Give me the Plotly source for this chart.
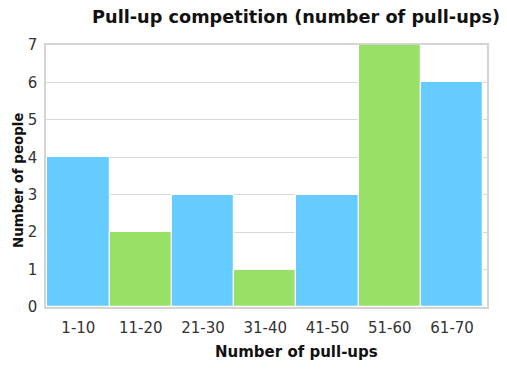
import plotly.graph_objects as go

categories = ["1-10", "11-20", "21-30", "31-40", "41-50", "51-60", "61-70"]
people = [4, 2, 3, 1, 3, 7, 6]
bar_colors = ["#66CCFF", "#99E066", "#66CCFF", "#99E066", "#66CCFF", "#99E066", "#66CCFF"]
y_ticks = [0, 1, 2, 3, 4, 5, 6, 7]

FONT = "DejaVu Sans, Verdana, sans-serif"

fig = go.Figure(go.Bar(
    x=categories, y=people,
    marker=dict(color=bar_colors, line=dict(color="white", width=1.2)),
    width=1.0,
))

fig.update_layout(
    width=507, height=371,
    margin=dict(l=46, r=20, t=45, b=64),
    paper_bgcolor="white", plot_bgcolor="white",
    bargap=0,
    showlegend=False,
    font=dict(family=FONT, size=15, color="#333"),
    title=dict(text="<b>Pull-up competition (number of pull-ups)</b>",
               font=dict(family=FONT, size=17.7, color="#111"),
               x=0.567, xref="paper", xanchor="center",
               y=1 - 17/371, yref="container", yanchor="middle"),
)
fig.update_xaxes(
    range=[-0.52, 6.56], showgrid=False, showline=True, mirror=True,
    linecolor="#d4d4d4", linewidth=1.5, ticks="outside", ticklen=6, tickcolor="rgba(0,0,0,0)",
    tickfont=dict(family=FONT, size=15, color="#333"),
)
fig.update_yaxes(
    range=[0, 7], tickvals=y_ticks, showgrid=True, gridcolor="#d9d9d9", gridwidth=1,
    showline=True, mirror=True, linecolor="#d4d4d4", linewidth=1.5,
    ticks="outside", ticklen=4, tickcolor="rgba(0,0,0,0)", zeroline=False,
    tickfont=dict(family=FONT, size=15, color="#333"),
)
fig.add_annotation(text="<b>Number of pull-ups</b>", xref="paper", yref="paper",
                   x=0.567, y=-45/262, xanchor="center", yanchor="middle",
                   showarrow=False, font=dict(family=FONT, size=15, color="#111"))
fig.add_annotation(text="<b>Number of people</b>", xref="paper", yref="paper",
                   x=-28/441, y=(307-181)/262, xanchor="center", yanchor="middle",
                   textangle=-90, showarrow=False,
                   font=dict(family=FONT, size=13.4, color="#111"))

fig.write_html("out.html")
